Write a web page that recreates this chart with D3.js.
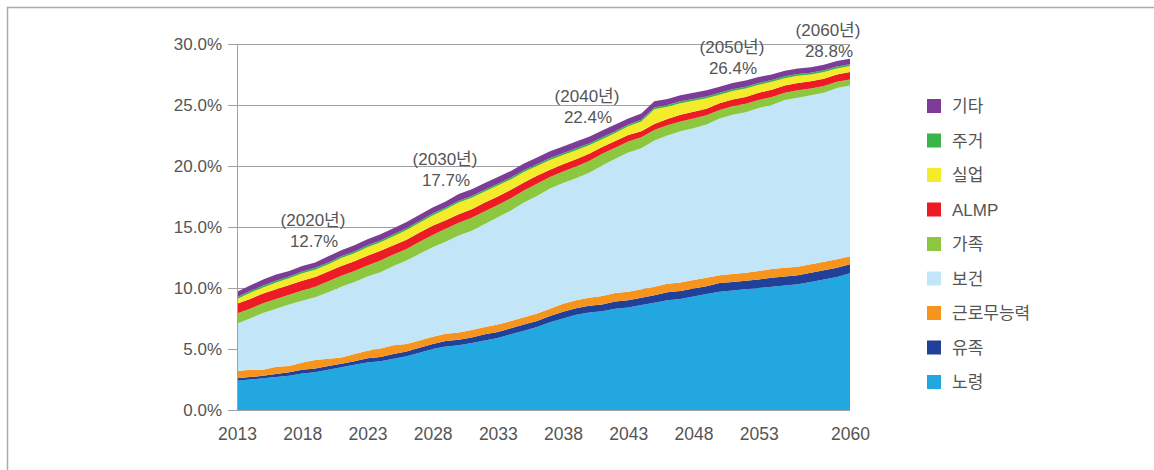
<!DOCTYPE html>
<html lang="ko">
<head>
    <meta charset="UTF-8">
    <title>사회지출 전망</title>
    <script src="https://d3js.org/d3.v7.min.js"></script>
    <style>
        body { margin: 0; background: #fff; }
        text { font-family: "Liberation Sans", "Noto Sans CJK KR", sans-serif; fill: #555; }
    </style>
</head>
<body>
    <script>
        // annual values, % of GDP, 2013..2060
        const years = d3.range(2013, 2061);

        const elderly   = [2.4, 2.5, 2.6, 2.7, 2.8, 3.0, 3.1, 3.3, 3.5, 3.7, 3.9, 4.0, 4.2, 4.4, 4.7, 5.0, 5.2, 5.3, 5.5, 5.7, 5.9, 6.2, 6.5, 6.8, 7.2, 7.5, 7.8, 8.0, 8.1, 8.3, 8.4, 8.6, 8.8, 9.0, 9.1, 9.3, 9.5, 9.7, 9.8, 9.9, 10.0, 10.1, 10.2, 10.3, 10.5, 10.7, 10.9, 11.2];
        const survivors = [0.2, 0.2, 0.2, 0.25, 0.3, 0.3, 0.3, 0.3, 0.3, 0.3, 0.35, 0.35, 0.4, 0.4, 0.4, 0.4, 0.45, 0.45, 0.45, 0.5, 0.5, 0.5, 0.5, 0.5, 0.5, 0.55, 0.55, 0.55, 0.55, 0.6, 0.6, 0.6, 0.6, 0.65, 0.65, 0.65, 0.65, 0.7, 0.7, 0.7, 0.7, 0.75, 0.75, 0.75, 0.75, 0.75, 0.75, 0.75];
        const incapacity = [0.6, 0.6, 0.5, 0.6, 0.5, 0.6, 0.7, 0.6, 0.5, 0.6, 0.6, 0.7, 0.7, 0.6, 0.6, 0.6, 0.6, 0.6, 0.6, 0.6, 0.6, 0.6, 0.6, 0.6, 0.6, 0.65, 0.65, 0.65, 0.7, 0.7, 0.7, 0.7, 0.7, 0.7, 0.7, 0.7, 0.7, 0.65, 0.65, 0.65, 0.7, 0.7, 0.7, 0.7, 0.7, 0.7, 0.7, 0.65];
        const health    = [3.9, 4.2, 4.65, 4.75, 5.05, 5.05, 5.15, 5.45, 5.8, 5.9, 6.1, 6.25, 6.5, 6.85, 7.1, 7.35, 7.55, 7.95, 8.15, 8.45, 8.8, 9.05, 9.4, 9.65, 9.85, 9.9, 10.0, 10.25, 10.7, 11.0, 11.4, 11.55, 12.0, 12.15, 12.4, 12.45, 12.55, 12.85, 13.05, 13.15, 13.35, 13.45, 13.75, 13.85, 13.85, 13.85, 14.05, 14.0];
        const family    = [0.8, 0.8, 0.8, 0.8, 0.8, 0.85, 0.85, 0.9, 0.9, 0.9, 0.9, 0.95, 0.95, 0.95, 1.0, 1.0, 1.05, 1.05, 1.05, 1.05, 1.0, 1.0, 1.0, 1.0, 0.95, 0.95, 0.95, 0.95, 0.95, 0.9, 0.9, 0.9, 0.85, 0.85, 0.8, 0.8, 0.75, 0.7, 0.7, 0.7, 0.65, 0.65, 0.6, 0.6, 0.55, 0.55, 0.5, 0.5];
        const almp      = [0.8, 0.8, 0.8, 0.8, 0.8, 0.8, 0.8, 0.8, 0.8, 0.8, 0.8, 0.8, 0.75, 0.75, 0.75, 0.75, 0.7, 0.7, 0.7, 0.7, 0.7, 0.7, 0.65, 0.65, 0.6, 0.6, 0.6, 0.6, 0.55, 0.55, 0.55, 0.5, 0.5, 0.5, 0.55, 0.55, 0.55, 0.55, 0.55, 0.55, 0.6, 0.6, 0.6, 0.6, 0.6, 0.6, 0.6, 0.6];
        const unemploy  = [0.4, 0.5, 0.5, 0.55, 0.55, 0.6, 0.6, 0.6, 0.65, 0.65, 0.7, 0.7, 0.75, 0.8, 0.8, 0.85, 0.9, 0.95, 0.95, 0.9, 0.9, 0.85, 0.85, 0.8, 0.8, 0.75, 0.75, 0.7, 0.65, 0.65, 0.7, 0.8, 1.2, 1.0, 0.95, 0.9, 0.85, 0.7, 0.7, 0.7, 0.65, 0.65, 0.6, 0.6, 0.55, 0.55, 0.5, 0.5];
        const housing   = [0.15, 0.15, 0.15, 0.15, 0.15, 0.15, 0.15, 0.15, 0.15, 0.15, 0.15, 0.15, 0.15, 0.15, 0.15, 0.15, 0.15, 0.15, 0.15, 0.15, 0.15, 0.15, 0.15, 0.15, 0.15, 0.15, 0.15, 0.15, 0.15, 0.15, 0.15, 0.15, 0.15, 0.15, 0.15, 0.15, 0.15, 0.15, 0.15, 0.15, 0.15, 0.15, 0.15, 0.15, 0.15, 0.15, 0.15, 0.15];
        const other     = [0.45, 0.45, 0.5, 0.5, 0.45, 0.45, 0.45, 0.5, 0.5, 0.5, 0.5, 0.5, 0.5, 0.5, 0.5, 0.5, 0.5, 0.55, 0.55, 0.55, 0.55, 0.55, 0.55, 0.55, 0.55, 0.55, 0.55, 0.55, 0.55, 0.55, 0.5, 0.5, 0.5, 0.5, 0.5, 0.5, 0.5, 0.5, 0.5, 0.5, 0.5, 0.45, 0.45, 0.45, 0.45, 0.45, 0.45, 0.45];

        // bottom to top
        const seriesNames = ["노령", "유족", "근로무능력", "보건", "가족", "ALMP", "실업", "주거", "기타"];
        const seriesValues = [elderly, survivors, incapacity, health, family, almp, unemploy, housing, other];
        const seriesColors = ["#22a7e0", "#21409a", "#f7941d", "#c2e6f8", "#8dc63f", "#ed1c24", "#f4eb2a", "#39b54a", "#7d3c98"];

        const xTicks = [2013, 2018, 2023, 2028, 2033, 2038, 2043, 2048, 2053, 2060];
        const yTicks = [0, 5, 10, 15, 20, 25, 30];

        const notes = [
            {year: 2020, label: "(2020년)", value: "12.7%", x: 313, y: 226},
            {year: 2030, label: "(2030년)", value: "17.7%", x: 445, y: 165},
            {year: 2040, label: "(2040년)", value: "22.4%", x: 587, y: 102},
            {year: 2050, label: "(2050년)", value: "26.4%", x: 732, y: 53},
            {year: 2060, label: "(2060년)", value: "28.8%", x: 828, y: 36}
        ];

        const width = 1154;
        const height = 470;

        const rows = years.map((yr, i) => {
            const r = {year: yr};
            seriesNames.forEach((k, j) => r[k] = seriesValues[j][i]);
            return r;
        });

        const x = d3.scaleLinear().domain([2013, 2060]).range([237, 850]);
        const y = d3.scaleLinear().domain([0, 30]).range([410, 44]);

        const svg = d3.select("body").append("svg")
            .attr("width", width)
            .attr("height", height);

        // outer frame
        svg.append("path")
            .attr("d", `M7.5,${height} V7.5 H${width}`)
            .attr("fill", "none")
            .attr("stroke", "#aaa")
            .attr("stroke-width", 1.5);

        // grid
        svg.append("g")
            .selectAll("line")
            .data(yTicks)
            .join("line")
            .attr("x1", 228)
            .attr("x2", 850)
            .attr("y1", d => Math.round(y(d)) + 0.5)
            .attr("y2", d => Math.round(y(d)) + 0.5)
            .attr("stroke", "#a0a0a0");

        const stack = d3.stack().keys(seriesNames);
        const layers = stack(rows);

        const area = d3.area()
            .x(d => x(d.data.year))
            .y0(d => y(d[0]))
            .y1(d => y(d[1]));

        svg.append("g")
            .selectAll("path")
            .data(layers)
            .join("path")
            .attr("fill", (d, i) => seriesColors[i])
            .attr("d", area);

        // y axis line
        svg.append("line")
            .attr("x1", 237.5).attr("x2", 237.5)
            .attr("y1", y(30)).attr("y2", y(0))
            .attr("stroke", "#a0a0a0");

        const yAxis = svg.append("g")
            .attr("transform", "translate(237,0)")
            .call(d3.axisLeft(y).tickValues(yTicks).tickSize(0).tickPadding(15)
                .tickFormat(d => d.toFixed(1) + "%"));
        yAxis.select(".domain").remove();
        yAxis.selectAll("text").attr("font-size", 17).style("font-family", null);

        const xAxis = svg.append("g")
            .attr("transform", "translate(0,428)")
            .call(d3.axisBottom(x).tickValues(xTicks).tickSize(0).tickPadding(0)
                .tickFormat(d3.format("d")));
        xAxis.select(".domain").remove();
        xAxis.selectAll("text").attr("font-size", 17.5).attr("dy", "0.71em").style("font-family", null);

        // annotations
        const ann = svg.append("g").attr("text-anchor", "middle").attr("font-size", 17);
        ann.selectAll("text.lab")
            .data(notes)
            .join("text")
            .attr("class", "lab")
            .attr("x", d => d.x)
            .attr("y", d => d.y)
            .text(d => d.label);
        ann.selectAll("text.val")
            .data(notes)
            .join("text")
            .attr("class", "val")
            .attr("x", d => d.x + 1)
            .attr("y", d => d.y + 21)
            .text(d => d.value);

        // legend, top to bottom
        const legendNames = seriesNames.slice().reverse();
        const legendColors = seriesColors.slice().reverse();
        const legend = svg.append("g")
            .selectAll("g")
            .data(legendNames)
            .join("g")
            .attr("transform", (d, i) => `translate(927,${106 + i * 34.5})`);
        legend.append("rect")
            .attr("y", -7)
            .attr("width", 14)
            .attr("height", 14)
            .attr("fill", (d, i) => legendColors[i]);
        legend.append("text")
            .attr("x", 25)
            .attr("y", 6)
            .attr("font-size", 17)
            .text(d => d);
    </script>
</body>
</html>
